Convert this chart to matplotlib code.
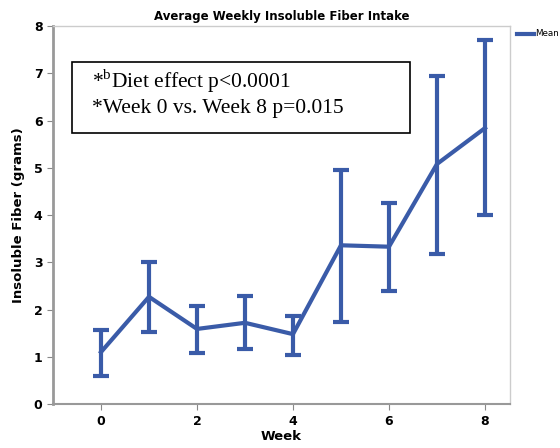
import matplotlib
matplotlib.use("Agg")
import matplotlib.pyplot as plt
from matplotlib.lines import Line2D
from matplotlib.patches import Rectangle

plt.rcParams["mathtext.fontset"] = "custom"
plt.rcParams["mathtext.rm"] = "Liberation Serif"

weeks = [0, 1, 2, 3, 4, 5, 6, 7, 8]
mean = [1.10, 2.27, 1.59, 1.72, 1.48, 3.36, 3.33, 5.08, 5.84]
upper = [1.57, 3.01, 2.08, 2.28, 1.87, 4.95, 4.26, 6.94, 7.71]
lower = [0.60, 1.53, 1.09, 1.16, 1.04, 1.74, 2.39, 3.18, 4.00]

color = "#3A5BA8"
fig = plt.figure(figsize=(5.6, 4.48), dpi=100)
ax = fig.add_axes([0.0946, 0.098, 0.816, 0.844])

yerr = [[m - l for m, l in zip(mean, lower)], [u - m for m, u in zip(mean, upper)]]
ax.errorbar(weeks, mean, yerr=yerr, color=color, lw=3, elinewidth=3,
            capsize=5.5, capthick=3)

ax.set_xlim(-1.0, 8.52)
ax.set_ylim(0, 8)
ax.set_xticks([0, 2, 4, 6, 8])
ax.set_yticks(range(0, 9))
for lab in ax.get_xticklabels() + ax.get_yticklabels():
    lab.set_fontweight("bold")
    lab.set_fontsize(9)
ax.tick_params(axis="both", color="#888888", length=4)
for s in ["top", "right"]:
    ax.spines[s].set_color("#cccccc")
    ax.spines[s].set_linewidth(1)
ax.spines["left"].set_color("#999999")
ax.spines["left"].set_linewidth(2)
ax.spines["bottom"].set_color("#999999")
ax.spines["bottom"].set_linewidth(1.5)

ax.set_title("Average Weekly Insoluble Fiber Intake", fontsize=8.5, fontweight="bold", pad=4)
ax.set_xlabel("Week", fontsize=9.5, fontweight="bold", labelpad=2)
ax.set_ylabel("Insoluble Fiber (grams)", fontsize=9.5, fontweight="bold", labelpad=6)

ax.add_patch(Rectangle((0.0416, 0.717), 0.7396, 0.188, transform=ax.transAxes,
                       facecolor="white", edgecolor="black", lw=1.2, zorder=3))
ax.text(0.085, 0.855, r"*$^{\mathrm{b}}$Diet effect p<0.0001",
        transform=ax.transAxes, fontsize=15.5, family="Liberation Serif",
        va="center", ha="left", zorder=4)
ax.text(0.085, 0.781, "*Week 0 vs. Week 8 p=0.015",
        transform=ax.transAxes, fontsize=15.5, family="Liberation Serif",
        va="center", ha="left", zorder=4)

fig.add_artist(Line2D([517/560, 534/560], [1 - 34/448, 1 - 34/448], color=color, lw=3))
fig.text(535/560, 1 - 34/448, "Mean", fontsize=6.3, va="center", ha="left")

fig.savefig("out.png", dpi=100)
